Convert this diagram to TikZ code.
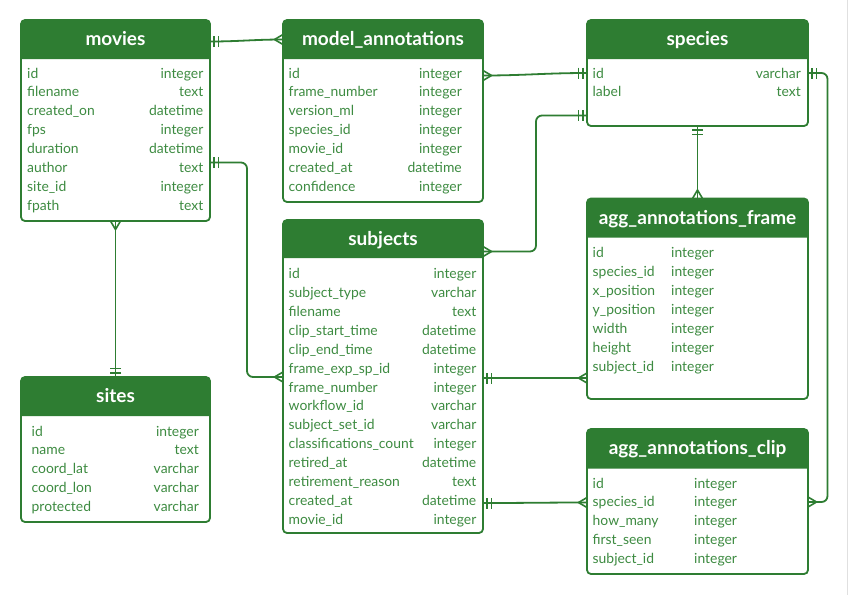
\documentclass[tikz,border=0pt]{standalone}
\usepackage{fontspec}
\setmainfont{Lato}
\usetikzlibrary{calc}
\definecolor{erg}{HTML}{2E7D32}
\definecolor{ert}{HTML}{3D8B41}
\newcommand\ertable[7]{% name, x, y, w, h, header height, title
  \node[tbl, minimum width=#4pt, minimum height=#5pt] (#1) at (#2,-#3) {};
  \fill[erg] ([yshift=-#6pt]#1.north west) [rounded corners=4pt] -- (#1.north west) -- (#1.north east) [sharp corners] -- ([yshift=-#6pt]#1.north east) -- cycle;
  \node[hdrtxt] (#1-title) at ($(#1.north)+(0,-#6/2-3.5)$) {#7};
}
\newcommand\erfields[6]{% name, xleft, xtype, typestyle, ystart, list
  \foreach \f/\t [count=\i] in {#6} {
    \node[fld] (#1-f\i) at (#2, {-(#5+2.5+18.95*(\i-1))}) {\f};
    \node[#4] (#1-t\i) at (#3, {-(#5+2.5+18.95*(\i-1))}) {\t};
  }
}
\begin{document}
\begin{tikzpicture}[x=1pt,y=1pt,
  tbl/.style={draw=erg, line width=1.8pt, rounded corners=4pt, inner sep=0pt, outer sep=0pt, anchor=north west},
  hdrtxt/.style={text=white, font=\fontsize{19}{22}\selectfont\bfseries, anchor=mid, inner sep=0pt},
  fld/.style={text=ert, font=\fontsize{13.9}{16}\selectfont, anchor=mid west, inner sep=0pt},
  typr/.style={text=ert, font=\fontsize{13.9}{16}\selectfont, anchor=mid east, inner sep=0pt},
  typl/.style={fld},
  conn/.style={draw=erg, line width=1.8pt, rounded corners=6pt},
  mk/.style={draw=erg, line width=1.6pt},
  one/.pic={\draw[mk] (4,-5.5)--(4,5.5); \draw[mk] (8.5,-5.5)--(8.5,5.5);},
  many/.pic={\draw[mk] (0,5)--(8.5,0)--(0,-5);}
]
\fill[white] (0,0) rectangle (850,-595);
\useasboundingbox (0,0) rectangle (850,-595);
\draw[black!12, line width=1pt] (847.5,0) -- (847.5,-595);

% tables
\ertable{movies}{21}{20}{189}{201}{39}{movies}
\erfields{movies}{27}{203.5}{typr}{73}{id/integer, filename/text, created\_on/datetime, fps/integer, duration/datetime, author/text, site\_id/integer, fpath/text}

\ertable{modelann}{283}{20}{200}{182}{39}{model\_annotations}
\erfields{modelann}{288.5}{462}{typr}{73}{id/integer, frame\_number/integer, version\_ml/integer, species\_id/integer, movie\_id/integer, created\_at/datetime, confidence/integer}

\ertable{species}{587}{20}{221}{106}{39}{species}
\erfields{species}{592.5}{801}{typr}{73}{id/varchar, label/text}

\ertable{subjects}{283}{220}{200}{313}{38}{subjects}
\erfields{subjects}{288.5}{476.5}{typr}{273.3}{id/integer, subject\_type/varchar, filename/text, clip\_start\_time/datetime, clip\_end\_time/datetime, frame\_exp\_sp\_id/integer, frame\_number/integer, workflow\_id/varchar, subject\_set\_id/varchar, classifications\_count/integer, retired\_at/datetime, retirement\_reason/text, created\_at/datetime, movie\_id/integer}

\ertable{aggf}{587}{198.5}{221}{200.5}{39}{agg\_annotations\_frame}
\erfields{aggf}{592.5}{671}{typl}{252.3}{id/integer, species\_id/integer, x\_position/integer, y\_position/integer, width/integer, height/integer, subject\_id/integer}

\ertable{aggc}{587}{429}{221}{145}{39.5}{agg\_annotations\_clip}
\erfields{aggc}{592.5}{694}{typl}{483}{id/integer, species\_id/integer, how\_many/integer, first\_seen/integer, subject\_id/integer}

\ertable{sites}{21}{377}{189}{145}{39}{sites}
\erfields{sites}{31.5}{199}{typr}{431}{id/integer, name/text, coord\_lat/varchar, coord\_lon/varchar, protected/varchar}

% connectors
% movies -- model_annotations
\draw[conn] ([yshift=-21.5pt]movies.north east) to[out=0,in=180] ([yshift=-19.5pt]modelann.north west);
\pic at ([yshift=-21.5pt]movies.north east) {one};
\pic[rotate=180] at ([yshift=-19.5pt]modelann.north west) {many};
% model_annotations -- species
\draw[conn] ([yshift=-55.5pt]modelann.north east) to[out=0,in=180] ([yshift=-53pt]species.north west);
\pic at ([yshift=-55.5pt]modelann.north east) {many};
\pic[rotate=180] at ([yshift=-53pt]species.north west) {one};
% species -- subjects
\draw[conn] ([yshift=-95.5pt]species.north west) -- ++(-51,0) |- ([yshift=-31.5pt]subjects.north east);
\pic[rotate=180] at ([yshift=-95.5pt]species.north west) {one};
\pic at ([yshift=-31.5pt]subjects.north east) {many};
% movies -- subjects
\draw[conn] ([yshift=-142.5pt]movies.north east) -- ++(37,0) |- ([yshift=-157pt]subjects.north west);
\pic at ([yshift=-142.5pt]movies.north east) {one};
\pic[rotate=180] at ([yshift=-157pt]subjects.north west) {many};
% movies -- sites
\draw[conn] (movies.south) -- (sites.north);
\pic[rotate=-90] at (movies.south) {many};
\pic[rotate=90] at (sites.north) {one};
% species -- agg_annotations_frame
\draw[conn] (species.south) -- (aggf.north);
\pic[rotate=-90] at (species.south) {one};
\pic[rotate=90] at (aggf.north) {many};
% subjects -- agg_annotations_frame
\draw[conn] ([yshift=-158pt]subjects.north east) -- ([yshift=-179.5pt]aggf.north west);
\pic at ([yshift=-158pt]subjects.north east) {one};
\pic[rotate=180] at ([yshift=-179.5pt]aggf.north west) {many};
% subjects -- agg_annotations_clip
\draw[conn] ([yshift=-283pt]subjects.north east) to[out=0,in=180] ([yshift=-73.5pt]aggc.north west);
\pic at ([yshift=-283pt]subjects.north east) {one};
\pic[rotate=180] at ([yshift=-73.5pt]aggc.north west) {many};
% species -- agg_annotations_clip
\draw[conn] ([yshift=-53pt]species.north east) -- ++(19.5,0) |- ([yshift=-73pt]aggc.north east);
\pic at ([yshift=-53pt]species.north east) {one};
\pic at ([yshift=-73pt]aggc.north east) {many};
\end{tikzpicture}
\end{document}
